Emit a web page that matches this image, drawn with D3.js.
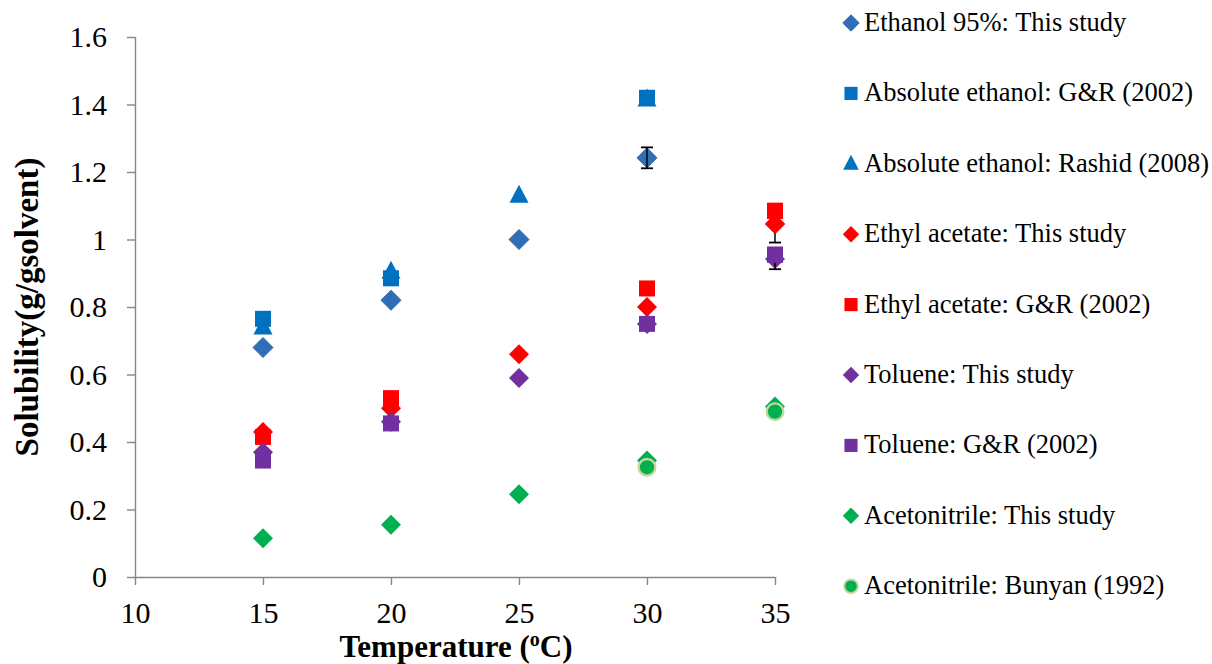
<!DOCTYPE html>
<html>
<head>
<meta charset="utf-8">
<script src="https://cdn.jsdelivr.net/npm/d3@7"></script>
<style>
  html, body { margin: 0; padding: 0; background: #fff; }
  svg { display: block; }
  text { font-family: "Liberation Serif", "Times New Roman", Tinos, "DejaVu Serif", serif; fill: #000; }
</style>
</head>
<body>
<svg id="chart" width="1212" height="664"></svg>
<script>
// Solubility (g/g solvent) against temperature (°C)
const xTicks = [10, 15, 20, 25, 30, 35];
const yTicks = [0, 0.2, 0.4, 0.6, 0.8, 1, 1.2, 1.4, 1.6];
const yTickLabels = ["0", "0.2", "0.4", "0.6", "0.8", "1", "1.2", "1.4", "1.6"];

const ethanolTemps = [15, 20, 25, 30];
const ethanolStudy = [0.68, 0.82, 1.0, 1.242];
const ethanolStudyErr = [0, 0, 0, 0.031];

const absEthGRTemps = [15, 20, 30];
const absEthGR = [0.765, 0.885, 1.42];

const absEthRashidTemps = [15, 20, 25, 30];
const absEthRashid = [0.74, 0.905, 1.13, 1.415];

const ethylTemps = [15, 20, 25, 30, 35];
const ethylStudy = [0.43, 0.50, 0.66, 0.80, 1.046];
const ethylStudyErr = [0, 0, 0, 0, 0.055];

const ethylGRTemps = [15, 20, 30, 35];
const ethylGR = [0.415, 0.53, 0.855, 1.085];

const tolueneTemps = [15, 20, 25, 30, 35];
const tolueneStudy = [0.37, 0.46, 0.59, 0.75, 0.942];
const tolueneStudyErr = [0, 0, 0, 0, 0.03];

const tolueneGRTemps = [15, 20, 30, 35];
const tolueneGR = [0.345, 0.455, 0.75, 0.955];

const acnTemps = [15, 20, 25, 30, 35];
const acnStudy = [0.115, 0.155, 0.245, 0.345, 0.505];

const acnBunyanTemps = [30, 35];
const acnBunyan = [0.325, 0.49];

const seriesNames = [
  "Ethanol 95%: This study",
  "Absolute ethanol: G&R (2002)",
  "Absolute ethanol: Rashid (2008)",
  "Ethyl acetate: This study",
  "Ethyl acetate: G&R (2002)",
  "Toluene: This study",
  "Toluene: G&R (2002)",
  "Acetonitrile: This study",
  "Acetonitrile: Bunyan (1992)"
];

const series = [
  { name: seriesNames[0], xs: ethanolTemps, ys: ethanolStudy, err: ethanolStudyErr, shape: "diamond", fill: "#2f6fba", stroke: "#3a64a0" },
  { name: seriesNames[2], xs: absEthRashidTemps, ys: absEthRashid, shape: "triangle", fill: "#0070c0" },
  { name: seriesNames[1], xs: absEthGRTemps, ys: absEthGR, shape: "square", fill: "#0070c0" },
  { name: seriesNames[3], xs: ethylTemps, ys: ethylStudy, err: ethylStudyErr, shape: "diamond", fill: "#ff0000" },
  { name: seriesNames[4], xs: ethylGRTemps, ys: ethylGR, shape: "square", fill: "#ff0000" },
  { name: seriesNames[5], xs: tolueneTemps, ys: tolueneStudy, err: tolueneStudyErr, shape: "diamond", fill: "#7030a0" },
  { name: seriesNames[6], xs: tolueneGRTemps, ys: tolueneGR, shape: "square", fill: "#7030a0" },
  { name: seriesNames[7], xs: acnTemps, ys: acnStudy, shape: "diamond", fill: "#00b050" },
  { name: seriesNames[8], xs: acnBunyanTemps, ys: acnBunyan, shape: "circle", fill: "#00b050", stroke: "#c3d69b" }
];

const legendOrder = [0, 2, 1, 3, 4, 5, 6, 7, 8];

const svg = d3.select("#chart");
const x = d3.scaleLinear().domain([10, 35]).range([135, 775]);
const y = d3.scaleLinear().domain([0, 1.6]).range([577, 37]);
const axisColor = "#868686";
const serif = '"Liberation Serif", "Times New Roman", Tinos, "DejaVu Serif", serif';

// Axes
const yAxis = svg.append("g").attr("transform", `translate(${x(10)},0)`)
  .call(d3.axisLeft(y).tickValues(yTicks).tickSize(8).tickPadding(20)
    .tickFormat((d, i) => yTickLabels[i]));
const xAxis = svg.append("g").attr("transform", `translate(0,${y(0)})`)
  .call(d3.axisBottom(x).tickValues(xTicks).tickSize(8).tickPadding(17));
[xAxis, yAxis].forEach(g => {
  g.attr("font-family", serif);
  g.select(".domain").attr("stroke", axisColor).attr("stroke-width", 1.4);
  g.selectAll(".tick line").attr("stroke", axisColor).attr("stroke-width", 1.4);
  g.selectAll(".tick text").style("font-family", serif)
    .style("font-size", "30px").attr("fill", "#000");
});
xAxis.selectAll(".domain").attr("d", `M${x(10)},0.5H${x(35)}`);
yAxis.selectAll(".domain").attr("d", `M0.5,${y(0)}V${y(1.6)}`);

// Axis titles
svg.append("text")
  .attr("transform", `translate(38,${(y(0) + y(1.6)) / 2}) rotate(-90)`)
  .attr("text-anchor", "middle")
  .style("font-size", "33px").style("font-weight", "bold")
  .text("Solubility(g/gsolvent)");

const xt = svg.append("text")
  .attr("x", 456).attr("y", 657)
  .attr("text-anchor", "middle")
  .style("font-size", "31px").style("font-weight", "bold");
xt.append("tspan").text("Temperature (");
xt.append("tspan").attr("dy", -11).style("font-size", "20px").text("o");
xt.append("tspan").attr("dy", 11).text("C)");

// Marker shapes
function markerPath(shape, s) {
  if (shape === "diamond") return `M0,${-s}L${s},0L0,${s}L${-s},0Z`;
  if (shape === "square") return `M${-s},${-s}H${s}V${s}H${-s}Z`;
  if (shape === "triangle") return `M0,${-s * 1.15}L${s},${s * 0.75}L${-s},${s * 0.75}Z`;
  return null;
}
const markerSize = { diamond: 10, square: 8, triangle: 9.5, circle: 9.5 };

function drawMarker(g, shape, fill, stroke, cx, cy, scale) {
  const s = markerSize[shape] * scale;
  if (shape === "circle") {
    g.append("circle").attr("cx", cx).attr("cy", cy).attr("r", s - 1.2 * scale)
      .attr("fill", fill).attr("stroke", stroke).attr("stroke-width", 2.4 * scale);
  } else {
    g.append("path").attr("transform", `translate(${cx},${cy})`)
      .attr("d", markerPath(shape, s)).attr("fill", fill)
      .attr("stroke", stroke || "none").attr("stroke-width", stroke ? 1 : 0);
  }
}

// Data points
const plot = svg.append("g");
series.forEach(sr => {
  const g = plot.append("g");
  sr.xs.forEach((t, i) => {
    drawMarker(g, sr.shape, sr.fill, sr.stroke, x(t), y(sr.ys[i]), 1);
  });
});

// Error bars
const errG = svg.append("g");
series.filter(sr => sr.err).forEach(sr => {
  sr.xs.forEach((t, i) => {
    const e = sr.err[i];
    if (!e) return;
    const cx = x(t), lo = y(sr.ys[i] - e), hi = y(sr.ys[i] + e);
    errG.append("line").attr("x1", cx).attr("x2", cx).attr("y1", lo).attr("y2", hi)
      .attr("stroke", "#000").attr("stroke-width", 1.5);
    [lo, hi].forEach(yy => errG.append("line").attr("x1", cx - 6).attr("x2", cx + 6)
      .attr("y1", yy).attr("y2", yy).attr("stroke", "#000").attr("stroke-width", 1.8));
  });
});
// the 35 °C squares sit over the upper error caps
(function () {
  const g = svg.append("g");
  [series[4], series[6]].forEach(sr => {
    sr.xs.forEach((t, i) => { if (t === 35) drawMarker(g, sr.shape, sr.fill, sr.stroke, x(t), y(sr.ys[i]), 1); });
  });
  // the ethyl acetate diamond sits over its square
  const sd = series[3];
  sd.xs.forEach((t, i) => { if (t === 35) drawMarker(g, sd.shape, sd.fill, sd.stroke, x(t), y(sd.ys[i]), 1); });
})();

// Legend
const legend = svg.append("g");
legendOrder.forEach((si, k) => {
  const sr = series[si];
  const cy = 23 + k * 70.4;
  drawMarker(legend, sr.shape, sr.fill, sr.stroke, 851, cy, 0.82);
  legend.append("text").attr("x", 864).attr("y", cy + 8)
    .style("font-size", "26.5px").text(sr.name);
});
</script>
</body>
</html>
